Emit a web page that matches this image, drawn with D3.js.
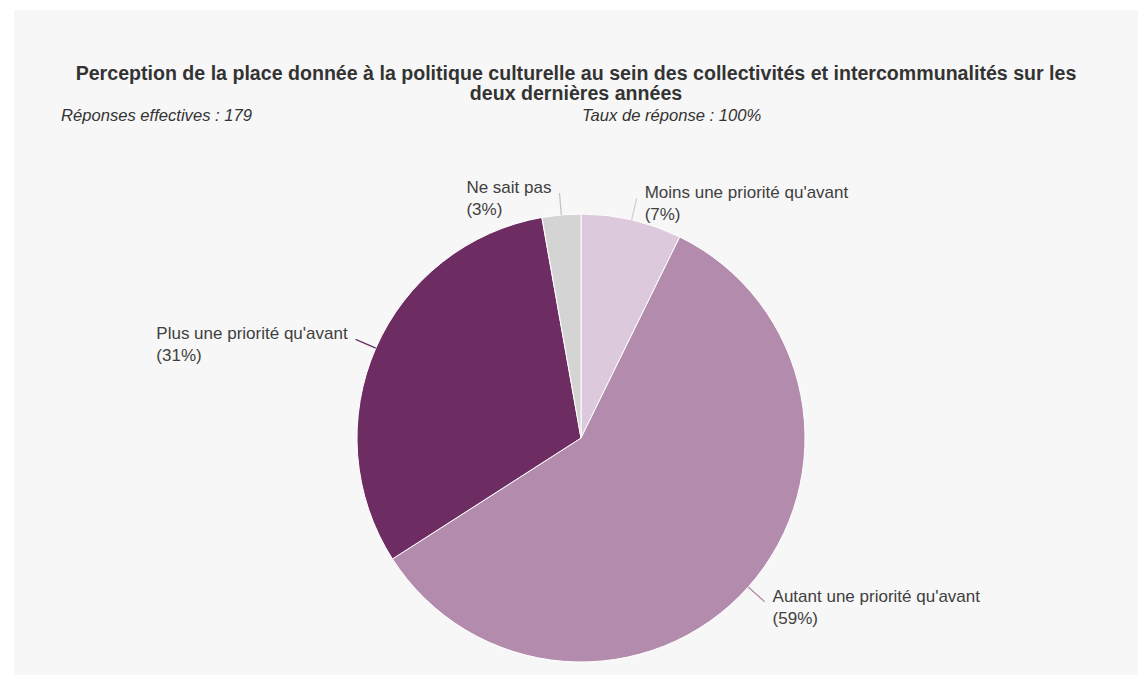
<!DOCTYPE html>
<html>
<head>
<meta charset="utf-8">
<script src="https://cdn.jsdelivr.net/npm/d3@7"></script>
<style>
  html, body { margin: 0; padding: 0; background: #ffffff; }
  svg { display: block; font-family: "Liberation Sans", Arial, sans-serif; }
</style>
</head>
<body>
<svg id="chart" width="1138" height="675"></svg>
<script>
// Response categories, clockwise from 12 o'clock
const categories = [
  "Moins une priorité qu'avant",
  "Autant une priorité qu'avant",
  "Plus une priorité qu'avant",
  "Ne sait pas"
];
// Number of respondents per category (179 in total)
const counts = [13, 105, 56, 5];
const colors = ["#dcc9dc", "#b38bad", "#6d2c62", "#d4d4d4"];
const connectorColors = ["#dcc9dc", "#b38bad", "#6d2c62", "#c4c4c4"];
const titleLines = [
  "Perception de la place donnée à la politique culturelle au sein des collectivités et intercommunalités sur les",
  "deux dernières années"
];
const subtitleLeft = "Réponses effectives : 179";
const subtitleRight = "Taux de réponse : 100%";

const svg = d3.select("#chart");
const W = 1138, H = 675;

// panel background
svg.append("rect")
  .attr("x", 14).attr("y", 10)
  .attr("width", W - 14).attr("height", H - 10)
  .attr("fill", "#f7f7f7");

// title
svg.append("g").selectAll("text").data(titleLines).join("text")
  .attr("x", 576)
  .attr("y", (d, i) => 80 + i * 20)
  .attr("text-anchor", "middle")
  .attr("font-size", 19.6)
  .attr("font-weight", "bold")
  .attr("fill", "#333333")
  .text(d => d);

// sub-headings
svg.append("text")
  .attr("x", 61).attr("y", 121)
  .attr("font-size", 16.6).attr("font-style", "italic")
  .attr("fill", "#333333")
  .text(subtitleLeft);
svg.append("text")
  .attr("x", 582).attr("y", 121)
  .attr("font-size", 16.6).attr("font-style", "italic")
  .attr("fill", "#333333")
  .text(subtitleRight);

// pie
const cx = 581, cy = 438, R = 224;
const total = d3.sum(counts);
const data = categories.map((c, i) => ({
  name: c, value: counts[i], color: colors[i], line: connectorColors[i]
}));

const pie = d3.pie().value(d => d.value).sort(null);
const arcs = pie(data);
const arc = d3.arc().innerRadius(0).outerRadius(R);

const g = svg.append("g").attr("transform", `translate(${cx},${cy})`);

g.selectAll("path.slice").data(arcs).join("path")
  .attr("class", "slice")
  .attr("d", arc)
  .attr("fill", d => d.data.color)
  .attr("stroke", "#ffffff")
  .attr("stroke-width", 1);

// connectors and two-line labels (name, percentage)
const pointAt = (a, r) => [Math.sin(a) * r, -Math.cos(a) * r];

arcs.forEach(d => {
  const mid = (d.startAngle + d.endAngle) / 2;
  const p0 = pointAt(mid, R);
  const p1 = pointAt(mid, R + 22);
  const right = Math.sin(mid) >= 0;

  g.append("line")
    .attr("x1", p0[0]).attr("y1", p0[1])
    .attr("x2", p1[0]).attr("y2", p1[1])
    .attr("stroke", d.data.line)
    .attr("stroke-width", 1.3);

  const pct = Math.round(d.data.value / total * 100);
  const t = g.append("text")
    .attr("y", p1[1])
    .attr("font-size", 17)
    .attr("fill", "#404040");
  const l1 = t.append("tspan").attr("x", 0).text(d.data.name);
  const l2 = t.append("tspan").attr("x", 0).attr("dy", 22).text(`(${pct}%)`);

  // lines are left-aligned inside the block; left-side blocks end near the connector
  const w = Math.max(l1.node().getComputedTextLength(), l2.node().getComputedTextLength());
  const x0 = right ? p1[0] + 8 : p1[0] - 8 - w;
  l1.attr("x", x0);
  l2.attr("x", x0);
});
</script>
</body>
</html>
